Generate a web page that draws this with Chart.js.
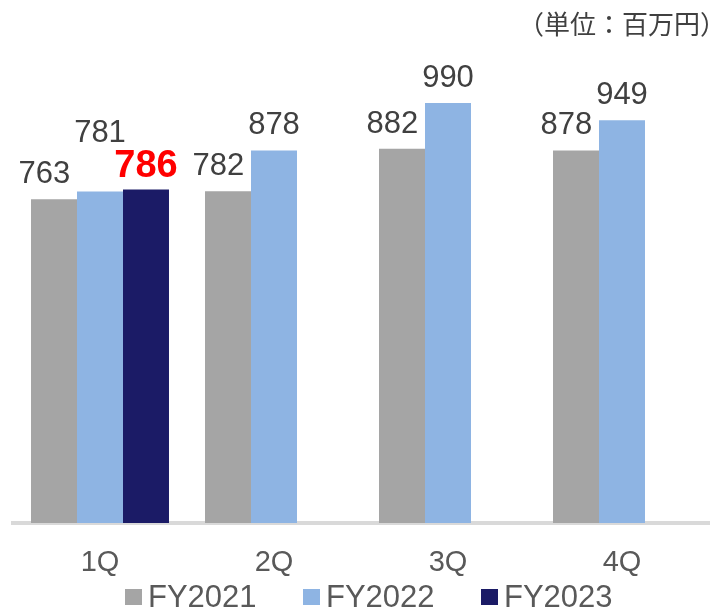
<!DOCTYPE html>
<html lang="ja">
<head>
<meta charset="utf-8">
<title>四半期別 売上推移</title>
<script src="https://cdn.jsdelivr.net/npm/chart.js@4/dist/chart.umd.min.js"></script>
<style>
  html, body { margin: 0; padding: 0; background: #fff; overflow: hidden; }
  #wrap { position: relative; width: 715px; height: 611px; overflow: hidden; }
  #salesChart { position: absolute; left: 0; top: 0; }
  #unit {
    position: absolute; top: 8px; right: -11px;
    font: 26px/30px "Noto Sans CJK JP", sans-serif; color: #404040;
    white-space: nowrap;
  }
  #legend {
    position: absolute; left: 125px; top: 582px; height: 30px;
    display: flex; margin: 0; padding: 0; list-style: none;
  }
  #legend li {
    width: 178px; display: flex; align-items: center;
    font: 31px/30px "Liberation Sans", Arial, sans-serif; color: #595959;
  }
  #legend li span {
    display: inline-block; width: 17px; height: 16px; margin-right: 6px; flex: none;
  }
</style>
</head>
<body>
<div id="wrap">
  <canvas id="salesChart" width="715" height="581"></canvas>
  <div id="unit"></div>
  <ul id="legend"></ul>
</div>
<script>
// quarterly figures, unit: million yen
const quarters = ["1Q", "2Q", "3Q", "4Q"];
const fy2021 = [763, 782, 882, 878];
const fy2022 = [781, 878, 990, 949];
const fy2023 = [786, null, null, null];
const unitLabel = "（単位：百万円）";
const highlightSeries = "FY2023";

const latin = "'Liberation Sans', Arial, sans-serif";

// value labels above each bar; the latest year is shown big and red,
// neighbours get nudged so they don't collide
const valueLabels = {
  id: "valueLabels",
  afterDatasetsDraw(chart) {
    const ctx = chart.ctx;
    const perCategory = {};
    chart.data.datasets.forEach((ds, d) => {
      const meta = chart.getDatasetMeta(d);
      if (meta.hidden) return;
      const hot = ds.label === highlightSeries;
      meta.data.forEach((bar, i) => {
        const v = ds.data[i];
        if (v == null) return;
        const font = hot ? `bold 38px ${latin}` : `31px ${latin}`;
        ctx.font = font;
        const w = ctx.measureText(String(v)).width;
        (perCategory[i] = perCategory[i] || []).push({
          x: bar.x, y: bar.y - (hot ? 12 : 16), w, text: String(v), font,
          color: hot ? "#ff0000" : "#404040", hot
        });
      });
    });

    Object.values(perCategory).forEach((items) => {
      for (let k = 0; k < items.length - 1; k++) {
        const a = items[k], b = items[k + 1];
        if (b.hot) {
          a.y -= 34;
          continue;
        }
        const overlap = (a.x + a.w / 2) - (b.x - b.w / 2);
        if (overlap > 0) a.x -= overlap + 4;
      }
      items.forEach((it) => {
        ctx.save();
        ctx.font = it.font;
        ctx.fillStyle = it.color;
        ctx.textAlign = "center";
        ctx.textBaseline = "alphabetic";
        ctx.fillText(it.text, it.x, it.y);
        ctx.restore();
      });
    });
  }
};

const ctx = document.getElementById("salesChart").getContext("2d");
const chart = new Chart(ctx, {
  type: "bar",
  data: {
    labels: quarters,
    datasets: [
      { label: "FY2021", data: fy2021, backgroundColor: "#a5a5a5" },
      { label: "FY2022", data: fy2022, backgroundColor: "#8eb4e3" },
      { label: "FY2023", data: fy2023, backgroundColor: "#1b1b66" }
    ]
  },
  options: {
    responsive: false,
    animation: false,
    layout: { padding: { top: 35, left: 13, right: 6, bottom: 0 } },
    datasets: {
      bar: { categoryPercentage: 0.793, barPercentage: 1.0, borderWidth: 0 }
    },
    scales: {
      x: {
        grid: { display: false, drawTicks: false },
        border: { display: true, color: "#d9d9d9", width: 4 },
        ticks: {
          color: "#595959",
          padding: 23,
          font: { family: latin, size: 29 }
        },
        afterFit(scale) {
          scale.height = 58;
        }
      },
      y: {
        display: false,
        min: 0,
        max: 1150
      }
    },
    plugins: {
      legend: { display: false },
      tooltip: { enabled: false }
    }
  },
  plugins: [valueLabels]
});

// unit note and legend as plain html
document.getElementById("unit").textContent = unitLabel;
const legendEl = document.getElementById("legend");
chart.data.datasets.forEach((ds) => {
  const li = document.createElement("li");
  const box = document.createElement("span");
  box.style.background = ds.backgroundColor;
  li.appendChild(box);
  li.appendChild(document.createTextNode(ds.label));
  legendEl.appendChild(li);
});
</script>
</body>
</html>
